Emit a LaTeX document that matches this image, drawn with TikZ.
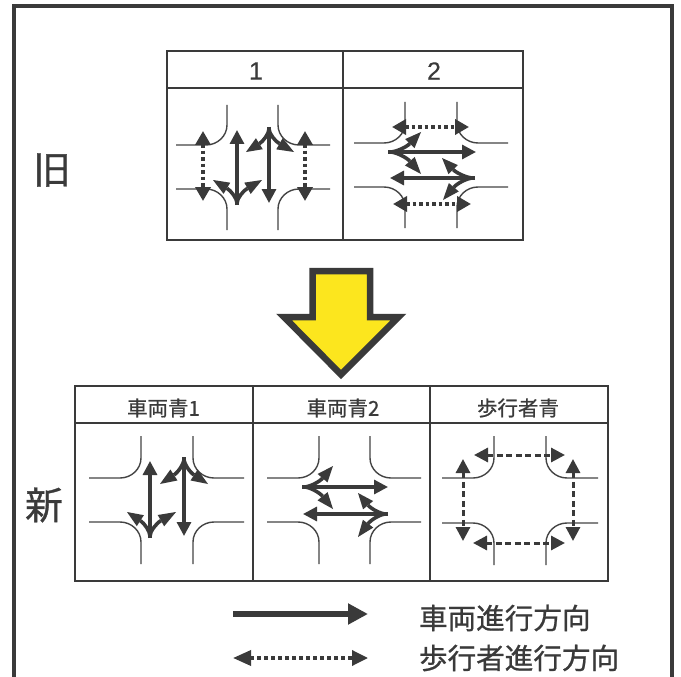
\documentclass[tikz,border=0pt]{standalone}
\usepackage{fontspec}
\setmainfont{Liberation Sans}
\newfontfamily\jpfont[FakeBold=0.8]{Noto Sans CJK JP}
\newfontfamily\numfont[FakeBold=0.4]{Liberation Sans}
\usetikzlibrary{arrows.meta}
\definecolor{ink}{HTML}{3A3A3A}
\definecolor{roadc}{HTML}{444444}
\definecolor{signy}{HTML}{FCE61E}
\tikzset{
  frameline/.style={draw=ink,line width=3.2pt},
  tableline/.style={draw=ink,line width=1.5pt},
  road/.style={draw=roadc,line width=1.4pt},
  veh/.style={draw=ink,line width=3.2pt,-{Triangle[length=14pt,width=14pt]}},
  vehb/.style={draw=ink,line width=3.6pt},
  vehhead/.style={fill=ink},
  pdot/.style={draw=ink,line width=3.6pt,dash pattern=on 3.5pt off 3pt,
    {Triangle[length=14pt,width=15pt]}-{Triangle[length=14pt,width=15pt]}},
  pdash/.style={draw=ink,line width=3pt,dash pattern=on 6pt off 3.5pt,
    {Triangle[length=14pt,width=14pt]}-{Triangle[length=14pt,width=14pt]}},
  cell/.style={inner sep=0pt,outer sep=0pt,text=ink},
  jpcell/.style={cell,font=\jpfont\fontsize{20.5}{21}\selectfont},
  numcell/.style={cell,font=\numfont\fontsize{25}{25}\selectfont},
  sidelabel/.style={cell,font=\jpfont\fontsize{38}{38}\selectfont},
  legendlabel/.style={cell,anchor=west,font=\jpfont\fontsize{28.6}{29}\selectfont},
}
% #1 left #2 road x1 #3 road x2 #4 right #5 top #6 road y1 #7 road y2 #8 bottom
\newcommand{\crossing}[8]{%
  \draw[road] (#2,#5) -- (#2,#6-20) .. controls (#2,#6-9) and (#2-9.5,#6) .. (#2-21,#6) -- (#1,#6);
  \draw[road] (#3,#5) -- (#3,#6-20) .. controls (#3,#6-9) and (#3+9.5,#6) .. (#3+21,#6) -- (#4,#6);
  \draw[road] (#2,#8) -- (#2,#7+20) .. controls (#2,#7+9) and (#2-9.5,#7) .. (#2-21,#7) -- (#1,#7);
  \draw[road] (#3,#8) -- (#3,#7+20) .. controls (#3,#7+9) and (#3+9.5,#7) .. (#3+21,#7) -- (#4,#7);
}
% branch: #1 #2 start, #3 #4 tip, #5 #6 head-base fractions along x and y
\newcommand{\branchto}[6]{%
  \pgfmathsetmacro{\bx}{#3+#5*(#1-(#3))}%
  \pgfmathsetmacro{\by}{#4+#6*(#2-(#4))}%
  \pgfmathsetmacro{\ux}{\bx-(#3)}%
  \pgfmathsetmacro{\uy}{\by-(#4)}%
  \pgfmathsetmacro{\ul}{sqrt(\ux*\ux+\uy*\uy)}%
  \pgfmathsetmacro{\px}{-6.5*\uy/\ul}%
  \pgfmathsetmacro{\py}{6.5*\ux/\ul}%
  \ifdim #5pt>#6pt
    \draw[vehb] (#1,#2) .. controls ({#1},{#2+0.3*(\by-(#2))}) and ({\bx+0.3*\ux},{\by+0.3*\uy}) .. (\bx,\by);
  \else
    \draw[vehb] (#1,#2) .. controls ({#1+0.3*(\bx-(#1))},{#2}) and ({\bx+0.3*\ux},{\by+0.3*\uy}) .. (\bx,\by);
  \fi
  \fill[vehhead] (#3,#4) -- ({\bx+\px},{\by+\py}) -- ({\bx-\px},{\by-\py}) -- cycle;
}
\newcommand{\brV}[4]{\branchto{#1}{#2}{#3}{#4}{0.58}{0.36}}
\newcommand{\brH}[4]{\branchto{#1}{#2}{#3}{#4}{0.36}{0.58}}
\begin{document}
\begin{tikzpicture}[x=1pt,y=-1pt]
\useasboundingbox (0,0) rectangle (681,677);
\fill[white] (0,0) rectangle (681,677);
% outer frame
\draw[frameline] (14,677) -- (14,6) -- (672,6) -- (672,677);
% old table
\draw[tableline] (167,51) rectangle (523,240);
\draw[tableline] (167,88) -- (523,88);
\draw[tableline] (343,51) -- (343,240);
\node[numcell] (h1) at (256,71) {1};
\node[numcell] (h2) at (434,71) {2};
\node[sidelabel] (old) at (52,170) {旧};
% old 1
\crossing{176}{227}{278}{330}{105}{145}{189}{230}
\draw[veh] (237,205) -- (237,130);
\draw[veh] (269,127) -- (269,203);
\brV{237}{203}{213}{180}
\brV{237}{203}{262}{180}
\brV{269}{129}{246}{152}
\brV{269}{129}{294}{152}
\draw[pdot] (203,131) -- (203,201);
\draw[pdot] (305,131) -- (305,201);
% old 2
\crossing{354}{405}{457}{508}{102}{143}{187}{228}
\draw[veh] (388,152) -- (476,152);
\draw[veh] (475,178) -- (390,178);
\brH{390}{152}{421}{132}
\brH{390}{152}{421}{174}
\brH{473}{178}{442}{158}
\brH{473}{178}{443}{200}
\draw[pdot] (392,127) -- (469,127);
\draw[pdot] (393,204) -- (471,204);
% yellow arrow
\draw[draw=ink,fill=signy,line width=6.5pt,miter limit=10]
  (312.5,271) -- (370,271) -- (370,317) -- (398.5,317) -- (341,374.5) -- (284,317) -- (312.5,317) -- cycle;
% new table
\draw[tableline] (75,386) rectangle (608,581);
\draw[tableline] (75,423) -- (608,423);
\draw[tableline] (253,386) -- (253,581);
\draw[tableline] (430,386) -- (430,581);
\node[jpcell] (n1) at (163.5,408) {車両青1};
\node[jpcell] (n2) at (343,408) {車両青2};
\node[jpcell] (n3) at (518,408) {歩行者青};
\node[sidelabel] (new) at (44,505) {新};
% new 1
\crossing{89}{141}{193}{244}{436}{478}{522}{564}
\draw[veh] (150,538) -- (150,461);
\draw[veh] (184,457) -- (184,536);
\brV{150}{536}{127}{512}
\brV{150}{536}{176}{512}
\brV{184}{459}{160}{484}
\brV{184}{459}{208}{484}
% new 2
\crossing{267}{319}{370}{421}{436}{478}{522}{564}
\draw[veh] (302,487) -- (388,487);
\draw[veh] (388,514) -- (303,514);
\brH{304}{487}{333}{466}
\brH{304}{487}{333}{509}
\brH{386}{514}{358}{493}
\brH{386}{514}{358}{537}
% new 3
\crossing{442}{494}{546}{598}{436}{478}{523}{565}
\draw[pdash] (474,455) -- (565,455);
\draw[pdash] (473,543) -- (565,543);
\draw[pdash] (463,459) -- (463,541);
\draw[pdash] (573,459) -- (573,541);
% legend
\coordinate (la) at (233,614);
\coordinate (lb) at (368,614);
\coordinate (lc) at (233,658);
\coordinate (ld) at (368,658);
\draw[draw=ink,line width=5.5pt,-{Triangle[length=20pt,width=20pt]}] (la) -- (lb);
\draw[draw=ink,line width=3.4pt,dash pattern=on 4pt off 3pt,{Triangle[length=18pt,width=15pt]}-{Triangle[length=16pt,width=15pt]}] (lc) -- (ld);
\node[legendlabel] (t1) at (419,618) {車両進行方向};
\node[legendlabel] (t2) at (419,658) {歩行者進行方向};
\end{tikzpicture}
\end{document}
